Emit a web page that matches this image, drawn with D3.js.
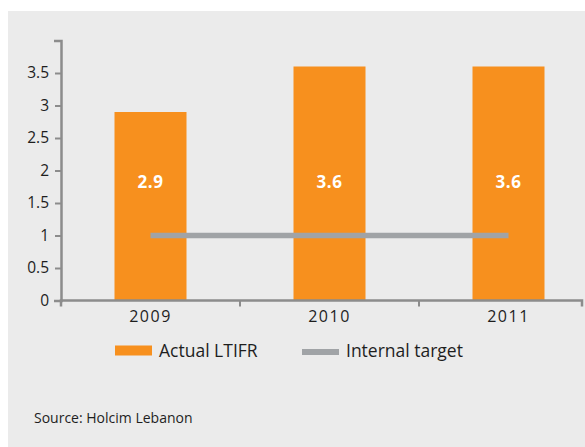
<!DOCTYPE html>
<html>
<head>
<meta charset="utf-8">
<script src="https://cdn.jsdelivr.net/npm/d3@7"></script>
<style>
  body { margin: 0; background: #fff; }
  text { font-family: "Open Sans", sans-serif; fill: #1e1e1e; }
</style>
</head>
<body>
<svg id="chart" width="585" height="447"></svg>
<script>

// data
const years = ["2009", "2010", "2011"];
const actualLtifr = [2.9, 3.6, 3.6];
const internalTarget = [1, 1, 1];
const yTicks = [0, 0.5, 1, 1.5, 2, 2.5, 3, 3.5];
const legendLabels = ["Actual LTIFR", "Internal target"];

const orange = "#f7901e";
const grey = "#a0a3a6";
const axisGrey = "#8c8c8c";

const svg = d3.select("#chart");

// panel
svg.append("rect")
        .attr("x", 8).attr("y", 11)
        .attr("width", 577).attr("height", 436)
        .attr("fill", "#ebebeb");

const margin = {left: 61, top: 41};

const x = d3.scaleBand().domain(years).range([61, 598]).paddingInner(0).paddingOuter(0);
const y = d3.scaleLinear().domain([0, 4]).range([300.5, 40.5]);

const barW = 72;

// bars
svg.append("g")
        .selectAll("rect")
        .data(actualLtifr)
        .join("rect")
        .attr("x", (d, i) => x(years[i]) + x.bandwidth() / 2 - barW / 2)
        .attr("y", d => y(d))
        .attr("width", barW)
        .attr("height", d => y(0) - y(d))
        .attr("fill", orange);

// target line
const line = d3.line()
        .x((d, i) => x(years[i]) + x.bandwidth() / 2)
        .y(d => y(d));

svg.append("path")
        .datum(internalTarget)
        .attr("d", line)
        .attr("fill", "none")
        .attr("stroke", grey)
        .attr("stroke-width", 5.5);

// value labels (all sit at the same height in the original)
svg.append("g")
        .selectAll("text")
        .data(actualLtifr)
        .join("text")
        .attr("x", (d, i) => x(years[i]) + x.bandwidth() / 2)
        .attr("y", 188)
        .attr("text-anchor", "middle")
        .attr("font-size", 17)
        .attr("font-weight", "bold")
        .attr("letter-spacing", 0.5)
        .style("fill", "#fff")
        .text(d => d);

// y axis
const yAxis = svg.append("g")
        .attr("transform", `translate(${margin.left},0)`)
        .call(d3.axisLeft(y).tickValues(yTicks).tickSize(6).tickSizeOuter(7).tickFormat(d3.format("")));

yAxis.select(".domain").attr("stroke", axisGrey).attr("stroke-width", 2.5);
yAxis.selectAll(".tick line").attr("stroke", axisGrey).attr("stroke-width", 2);
yAxis.selectAll(".tick text")
        .attr("x", -12)
        .attr("font-size", 15.5)
        .attr("font-family", null);

// x axis: line from 61 to 582 with ticks at category boundaries
const xEnd = 582;
const xAxis = svg.append("g");
xAxis.append("path")
        .attr("d", `M${x.range()[0]},${y(0) + 6}V${y(0)}H${xEnd}V${y(0) + 6}`)
        .attr("fill", "none")
        .attr("stroke", axisGrey)
        .attr("stroke-width", 2.5);

xAxis.selectAll("line")
        .data(years.slice(1))
        .join("line")
        .attr("x1", d => x(d)).attr("x2", d => x(d))
        .attr("y1", y(0)).attr("y2", y(0) + 6)
        .attr("stroke", axisGrey)
        .attr("stroke-width", 2);

xAxis.selectAll("text")
        .data(years)
        .join("text")
        .attr("x", d => x(d) + x.bandwidth() / 2)
        .attr("y", 322)
        .attr("text-anchor", "middle")
        .attr("font-size", 16)
        .attr("letter-spacing", 1.5)
        .text(d => d);

// legend
const legend = svg.append("g");
const legendX = [115, 302];
const swatchColor = [orange, grey];
const swatchH = [10, 6];

legend.selectAll("rect")
        .data(legendLabels)
        .join("rect")
        .attr("x", (d, i) => legendX[i])
        .attr("y", (d, i) => 350.5 - swatchH[i] / 2 + (i ? 1.5 : 0))
        .attr("width", 37)
        .attr("height", (d, i) => swatchH[i])
        .attr("fill", (d, i) => swatchColor[i]);

legend.selectAll("text")
        .data(legendLabels)
        .join("text")
        .attr("x", (d, i) => legendX[i] + 44)
        .attr("y", 357)
        .attr("font-size", 17.5)
        .text(d => d);

// source
svg.append("text")
        .attr("x", 34)
        .attr("y", 423)
        .attr("font-size", 14)
        .text("Source: Holcim Lebanon");

</script>
</body>
</html>
